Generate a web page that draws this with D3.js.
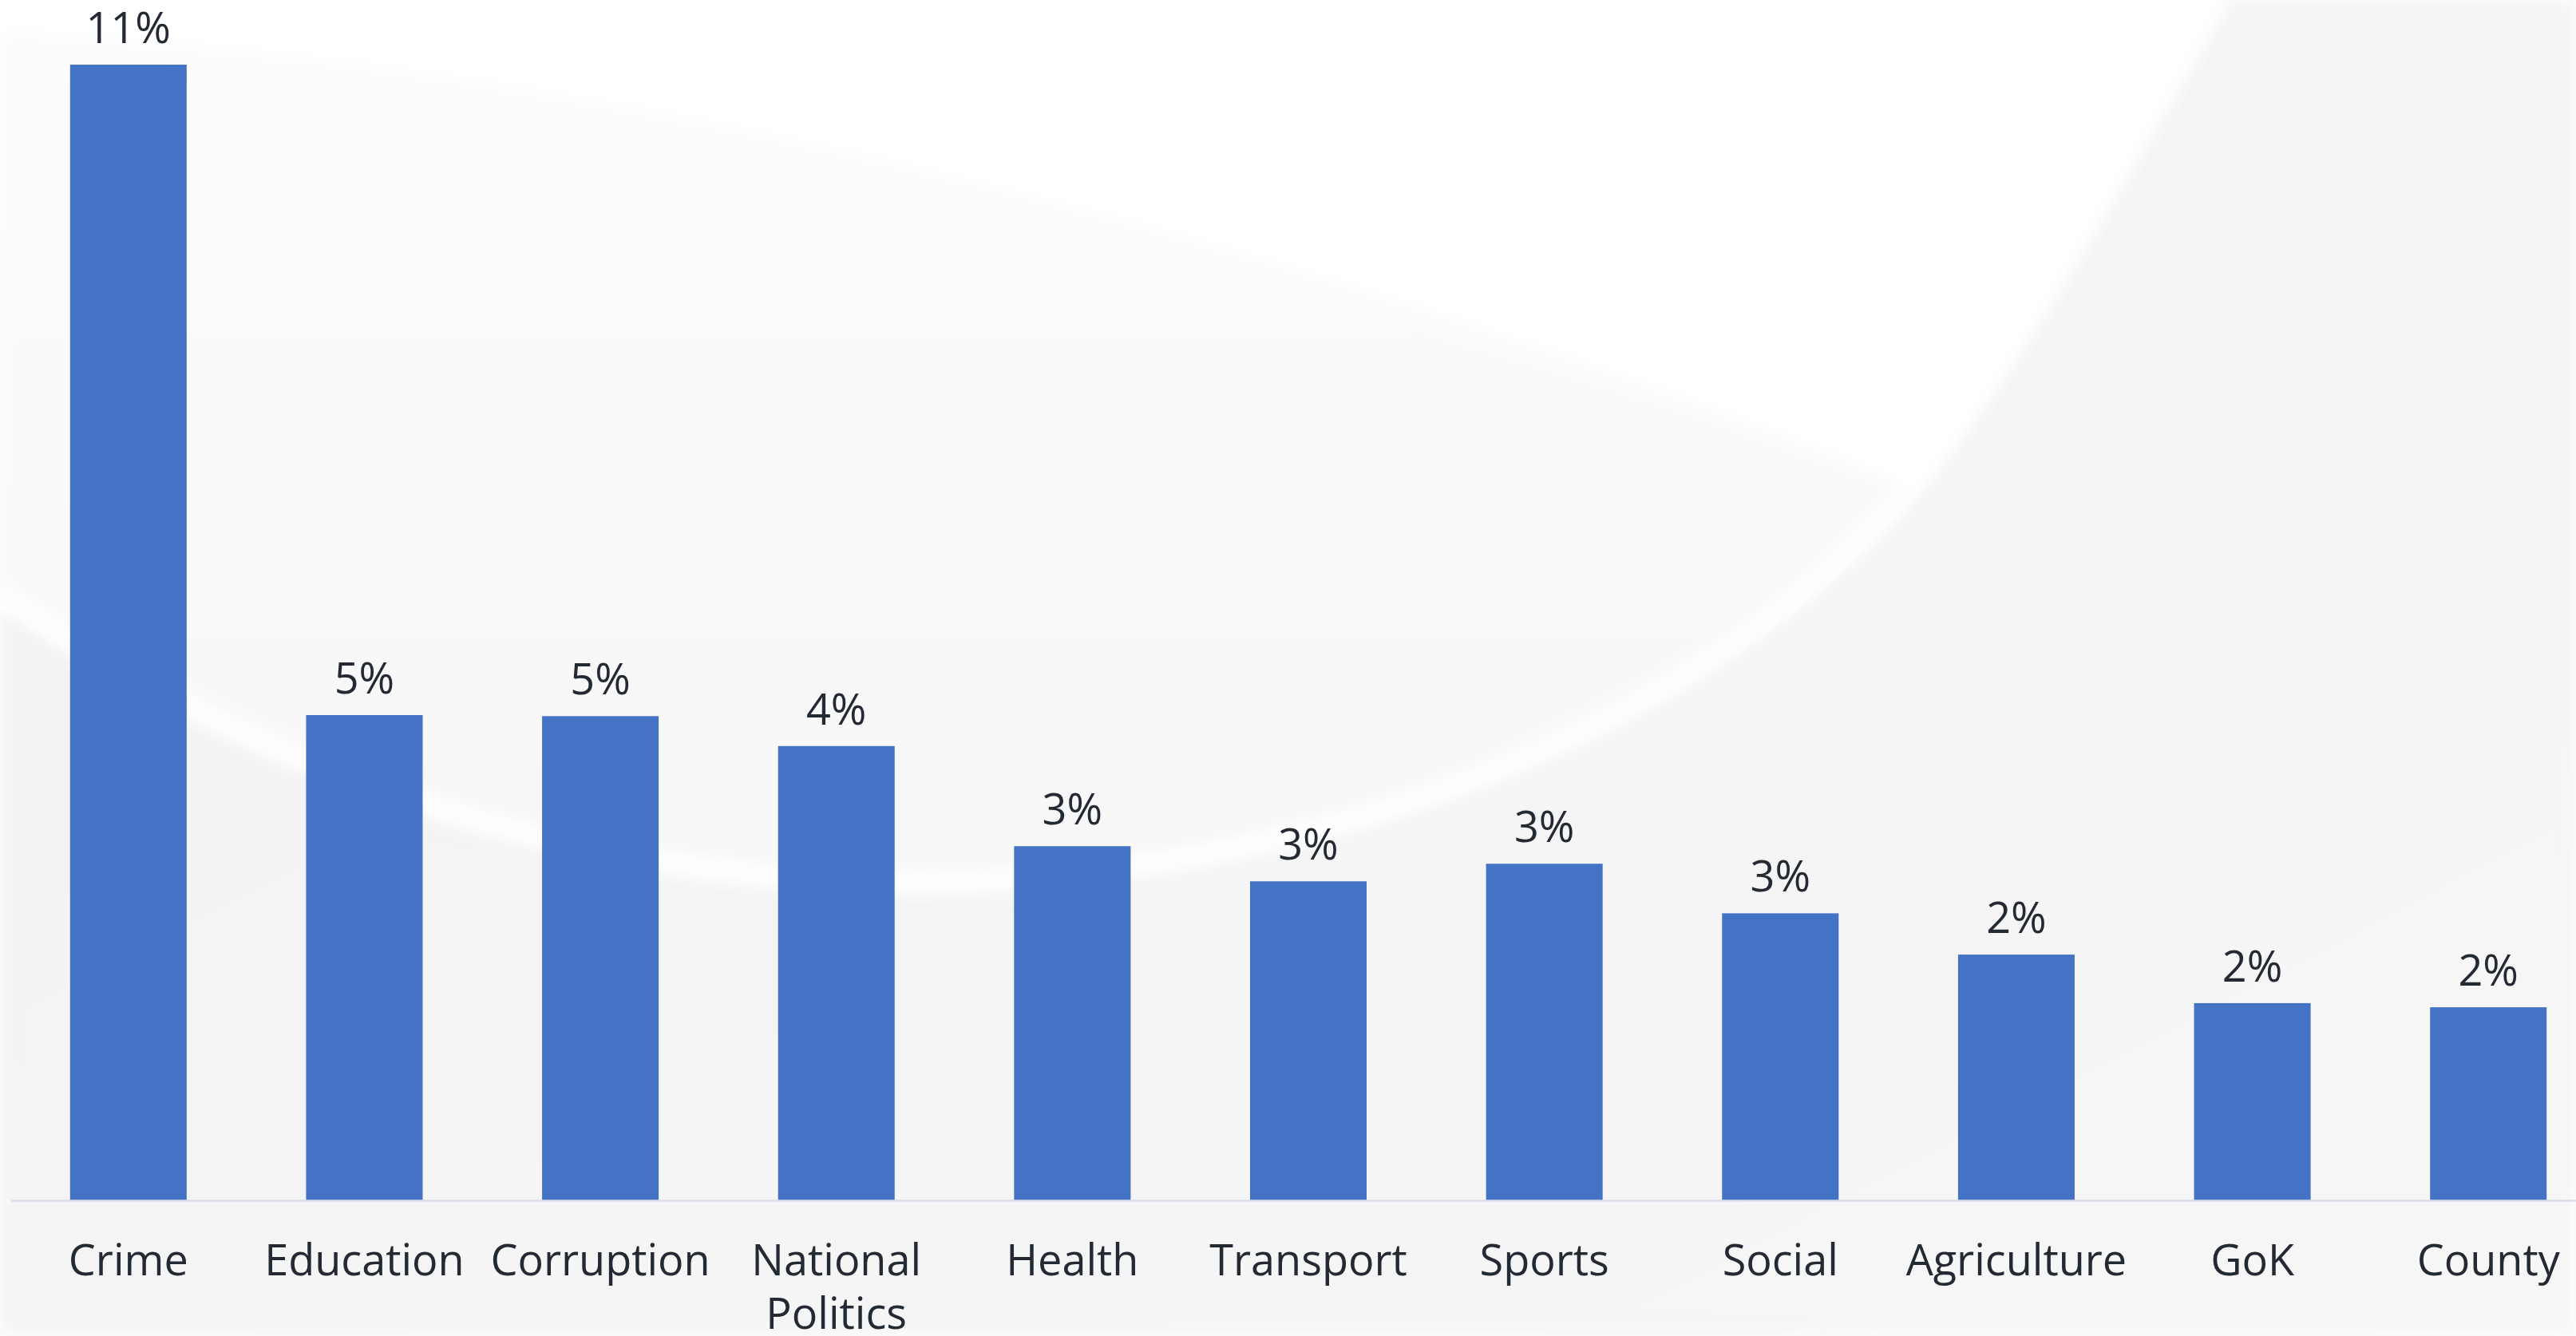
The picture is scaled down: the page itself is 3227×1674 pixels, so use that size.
<!DOCTYPE html>
<html>
<head>
<meta charset="utf-8">
<script src="https://cdn.jsdelivr.net/npm/d3@7"></script>
<style>
  html, body { margin: 0; padding: 0; background: #ffffff; overflow: hidden; }
  svg { display: block; }
</style>
</head>
<body>
<svg id="chart" width="3227" height="1674"></svg>
<script>
// ---- Data ----
const categories = ["Crime", "Education", "Corruption", "National Politics", "Health",
  "Transport", "Sports", "Social", "Agriculture", "GoK", "County"];
const values = [11.0, 4.70, 4.69, 4.40, 3.43, 3.09, 3.26, 2.78, 2.38, 1.91, 1.87];
const yDomainMax = 11.0;

// ---- Layout ----
const W = 3227, H = 1674;
const baseY = 1504, topY = 81;
const svg = d3.select("#chart");
const FONT = "'Open Sans', 'Noto Sans', sans-serif";
const TEXT_COLOR = "#232a34";

// ---- Background swooshes (decorative) ----
const defs = svg.append("defs");
const blur = defs.append("filter").attr("id", "soft").attr("x", "-10%").attr("y", "-10%").attr("width", "120%").attr("height", "120%");
blur.append("feGaussianBlur").attr("stdDeviation", 10);
const g1 = defs.append("linearGradient").attr("id", "gA").attr("x1", 0).attr("y1", 0).attr("x2", 1).attr("y2", 1);
g1.append("stop").attr("offset", "0%").attr("stop-color", "#f2f2f2");
g1.append("stop").attr("offset", "100%").attr("stop-color", "#f6f6f6");
const g2 = defs.append("linearGradient").attr("id", "gB").attr("x1", 0).attr("y1", 0).attr("x2", 0).attr("y2", 1);
g2.append("stop").attr("offset", "0%").attr("stop-color", "#fcfcfc");
g2.append("stop").attr("offset", "100%").attr("stop-color", "#f7f7f7");

svg.append("rect").attr("width", W).attr("height", H).attr("fill", "#ffffff");
// faint band between the top streak and the crescent
svg.append("path")
  .attr("d", "M0,40 C800,80 1700,330 2390,612 C2150,890 1700,1090 1180,1104 C700,1110 300,950 0,740 Z")
  .attr("fill", "url(#gB)").attr("filter", "url(#soft)");
// gray region below the crescent and right of the right arc
svg.append("path")
  .attr("d", "M0,760 C300,960 700,1120 1180,1112 C1700,1100 2150,900 2400,620 C2560,420 2680,180 2790,0 L3227,0 L3227,1674 L0,1674 Z")
  .attr("fill", "url(#gA)").attr("filter", "url(#soft)");
// white highlight along the crescent
svg.append("path")
  .attr("d", "M0,740 C300,950 700,1110 1180,1104 C1700,1090 2150,890 2390,612 C2550,410 2670,170 2780,0")
  .attr("fill", "none").attr("stroke", "#ffffff").attr("stroke-width", 22).attr("filter", "url(#soft)");

// ---- Scales ----
const x = d3.scaleBand().domain(categories).range([13, 3265]).paddingInner(0.506).paddingOuter(0.253);
const y = d3.scaleLinear().domain([0, yDomainMax]).range([baseY, topY]);

// ---- Bars ----
const data = categories.map((c, i) => ({ c, v: values[i] }));
svg.append("g").selectAll("rect").data(data).join("rect")
  .attr("x", d => x(d.c))
  .attr("y", d => y(d.v))
  .attr("width", x.bandwidth())
  .attr("height", d => y(0) - y(d.v))
  .attr("fill", "#4472c4");

// ---- Axis ----
const axis = svg.append("g").attr("transform", `translate(0,${baseY})`)
  .call(d3.axisBottom(x).tickSize(0).tickSizeOuter(0).tickPadding(56));
axis.select(".domain").attr("stroke", "#d9dfe8").attr("stroke-width", 2.5);
axis.selectAll(".tick text")
  .attr("font-family", FONT).attr("font-size", 54).attr("fill", TEXT_COLOR)
  .each(function() {
    const t = d3.select(this);
    const words = t.text().split(" ");
    if (words.length < 2) return;
    if (this.getComputedTextLength() <= x.step()) return;
    const yy = t.attr("y");
    t.text(null);
    words.forEach((w, i) => {
      t.append("tspan").attr("x", 0).attr("y", yy)
        .attr("dy", (0.71 + i * 1.24) + "em")
        .text(w);
    });
  });

// ---- Value labels ----
svg.append("g").selectAll("text").data(data).join("text")
  .attr("x", d => x(d.c) + x.bandwidth() / 2)
  .attr("y", d => y(d.v) - 27)
  .attr("text-anchor", "middle")
  .attr("font-family", FONT).attr("font-size", 54).attr("fill", TEXT_COLOR)
  .text(d => Math.round(d.v) + "%");
</script>
</body>
</html>
